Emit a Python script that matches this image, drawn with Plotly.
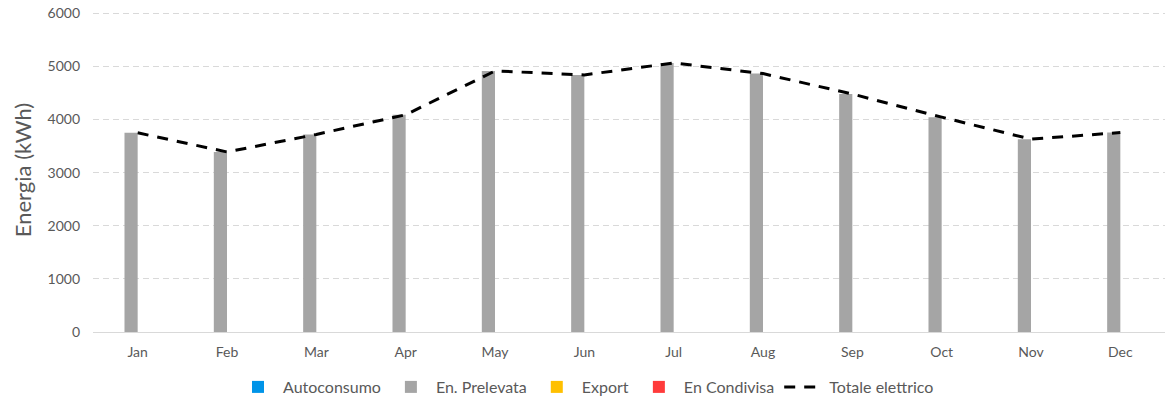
import plotly.graph_objects as go

months = ["Jan", "Feb", "Mar", "Apr", "May", "Jun", "Jul", "Aug", "Sep", "Oct", "Nov", "Dec"]
autoconsumo = [0] * 12
prelevata = [3750, 3390, 3720, 4090, 4915, 4840, 5065, 4865, 4480, 4045, 3630, 3755]
export = [0] * 12
condivisa = [0] * 12
totale = [3750, 3390, 3720, 4090, 4915, 4840, 5065, 4865, 4480, 4045, 3630, 3755]

FONT = "Lato"
GREY = "#595959"

fig = go.Figure()
fig.add_trace(go.Bar(x=months, y=autoconsumo, name="Autoconsumo",
                     marker=dict(color="#0094E8", line=dict(width=0))))
fig.add_trace(go.Bar(x=months, y=prelevata, name="En. Prelevata",
                     marker=dict(color="#A5A5A5", line=dict(width=0))))
fig.add_trace(go.Bar(x=months, y=export, name="Export",
                     marker=dict(color="#FFC000", line=dict(width=0))))
fig.add_trace(go.Bar(x=months, y=condivisa, name="En Condivisa",
                     marker=dict(color="#FF3B3B", line=dict(width=0))))
fig.add_trace(go.Scatter(x=months, y=totale, name="Totale elettrico", mode="lines",
                         line=dict(color="black", width=3, dash="11px,9px")))

fig.update_layout(
    width=1165, height=404,
    margin=dict(l=93, r=0, t=8, b=72, autoexpand=False),
    paper_bgcolor="white", plot_bgcolor="white",
    barmode="group", bargap=0.41, bargroupgap=0,
    font=dict(family=FONT, color=GREY, size=14),
    showlegend=True,
    legend=dict(orientation="h", x=0.503, xanchor="center", y=15, yref="container",
                yanchor="middle", xref="container",
                font=dict(family=FONT, size=16, color=GREY), traceorder="normal",
                itemwidth=40),
    xaxis=dict(showgrid=False, showline=True, linecolor="#D9D9D9", linewidth=1,
               ticks="", tickfont=dict(size=14, color=GREY), ticklabelstandoff=7),
    yaxis=dict(range=[0, 6100], tickvals=[0, 1000, 2000, 3000, 4000, 5000, 6000],
               showgrid=True, gridcolor="#D9D9D9", ticklabeloverflow="allow",
               griddash="6px,4px", gridwidth=1, zeroline=False, showline=False,
               ticks="", tickfont=dict(size=14, color=GREY), ticklabelstandoff=12,
               title=dict(text="Energia (kWh)", font=dict(size=22, color=GREY), standoff=9)),
)

fig.write_html("out.html", config={"displayModeBar": False},
               post_script="document.body.style.margin='0';")
